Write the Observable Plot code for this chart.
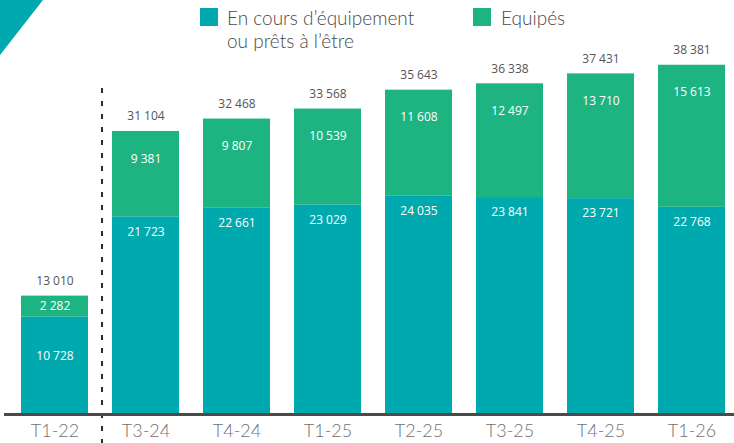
<!DOCTYPE html>
<html>
<head>
<meta charset="utf-8">
<script src="https://cdn.jsdelivr.net/npm/d3@7"></script>
<script src="https://cdn.jsdelivr.net/npm/@observablehq/plot@0.6"></script>
<style>
  html, body { margin: 0; padding: 0; background: #fff; }
  #wrap { position: relative; width: 734px; height: 443px; overflow: hidden; }
  #corner { position: absolute; left: 0; top: 0; width: 43px; height: 55px; background: #00A9AE;
            clip-path: polygon(0 0, 100% 0, 0 100%); }
  .legend { position: absolute; top: 8px; font-family: Lato, "Open Sans", sans-serif; font-weight: 300; font-size: 19px;
            color: #4a4a4a; line-height: 23px; }
  .sw { position: absolute; top: 0; width: 18px; height: 18px; }
  svg { display: block; }
</style>
</head>
<body>
<div id="wrap">
  <div id="chart"></div>
  <div id="corner"></div>
  <div class="legend" style="left:200px"><span class="sw" style="background:#00A9AE;left:0"></span><div style="margin-left:27px;margin-top:-2px">En cours d’équipement<br>ou prêts à l’être</div></div>
  <div class="legend" style="left:473px"><span class="sw" style="background:#1DB482;left:0"></span><div style="margin-left:28px;margin-top:-2px">Equipés</div></div>
</div>
<script>
const quarters = ["T1-22","T3-24","T4-24","T1-25","T2-25","T3-25","T4-25","T1-26"];
const enCours  = [10728,21723,22661,23029,24035,23841,23721,22768];
const equipes  = [2282,9381,9807,10539,11608,12497,13710,15613];
const totals   = [13010,31104,32468,33568,35643,36338,37431,38381];
const seriesNames = ["En cours d’équipement ou prêts à l’être","Equipés"];
const seriesColors = ["#00A9AE","#1DB482"];

const fmt = d3.formatLocale({decimal: ",", thousands: " ", grouping: [3], currency: ["", ""]}).format(",");

const rows = [];
quarters.forEach((q, i) => {
  rows.push({q, series: seriesNames[0], value: enCours[i]});
  rows.push({q, series: seriesNames[1], value: equipes[i]});
});
const per = quarters.map((q, i) => ({q, teal: enCours[i], green: equipes[i], total: totals[i]}));

const chart = Plot.plot({
  width: 734,
  height: 443,
  marginTop: 50,
  marginBottom: 29,
  marginLeft: 4,
  marginRight: 0,
  x: {type: "band", domain: quarters, range: [8, 738], paddingInner: 0.265, paddingOuter: 0.1325},
  y: {domain: [0, 40000], axis: null},
  color: {domain: seriesNames, range: seriesColors},
  style: {fontFamily: "'Open Sans', sans-serif", background: "#fff"},
  marks: [
    Plot.barY(rows, {x: "q", y: "value", fill: "series"}),
    Plot.ruleX(["T1-22"], {x: d => d, dx: 47, y1: -3300, y2: 36200, stroke: "#2b2b2b", strokeWidth: 2, strokeDasharray: "5,8"}),
    Plot.ruleY([0], {stroke: "#4a4a4a", strokeWidth: 3}),
    Plot.text(per, {x: "q", y: "total", dy: -15, text: d => fmt(d.total), fill: "#555", fontSize: 12}),
    Plot.text(per, {x: "q", y: d => d.total > 15000 ? d.total - 3000 : (d.teal + d.total) / 2, text: d => fmt(d.green), fill: "#fff", fontSize: 12}),
    Plot.text(per, {x: "q", y: d => d.total > 15000 ? d.teal - 1650 : d.teal * 0.6, text: d => fmt(d.teal), fill: "#fff", fontSize: 12}),
    Plot.axisX({tickSize: 0, tickPadding: 10, fontSize: 18, fill: "#707070", fontFamily: "Lato, sans-serif", fontWeight: 300, label: null})
  ]
});
document.getElementById("chart").appendChild(chart);
</script>
</body>
</html>
